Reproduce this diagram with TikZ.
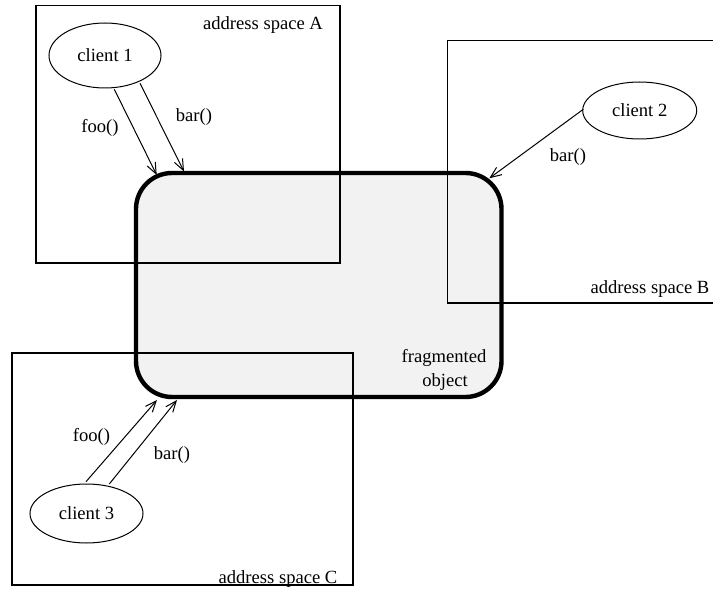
\documentclass[tikz,border=0pt]{standalone}
\usepackage{fontspec}
\setmainfont{Liberation Serif}
\usetikzlibrary{shapes.geometric,arrows.meta}
\begin{document}
\begin{tikzpicture}[x=1pt,y=-1pt,
  every node/.style={font=\fontsize{18.6}{21}\selectfont, inner sep=0pt},
  client/.style={ellipse, draw, line width=1pt},
  space/.style={draw, line width=1.1pt},
  spacethick/.style={draw, line width=2.2pt},
  call/.style={line width=1pt, -{Straight Barb[length=11pt,width=9pt,line width=1pt]}},
  lbl/.style={anchor=center}]
\useasboundingbox (0,0) rectangle (713,596);
\clip (0,0) rectangle (713,596);
% fragmented object fill
\path[fill=black!5, rounded corners=36pt] (136,173) rectangle (501.5,397);
% address spaces
\draw[space] (36,5.5) rectangle (340,263);
\draw[space] (447.7,40.7) rectangle (730,303);
\draw[spacethick] (11.7,353) rectangle (353,585);
% fragmented object border
\draw[line width=4.4pt, rounded corners=36pt] (136,173) rectangle (501.5,397);
% labels of spaces
\node[lbl] (la) at (263,25) {address space A};
\node[lbl] (lb) at (650,289) {address space B};
\node[lbl] (lc) at (278,579) {address space C};
\node[lbl] (fo1) at (444,358) {fragmented};
\node[lbl] (fo2) at (445,382) {object};
% clients
\node[client, minimum width=112pt, minimum height=65pt] (c1) at (105,55.5) {client 1};
\node[client, minimum width=114pt, minimum height=57pt] (c2) at (639.7,110.5) {client 2};
\node[client, minimum width=113pt, minimum height=59pt] (c3) at (86.5,513.5) {client 3};
% arrow end points
\coordinate (f1s) at (114.3,89.3);
\coordinate (f1e) at (156.7,175);
\coordinate (b1s) at (140,83.3);
\coordinate (b1e) at (184,171.5);
\coordinate (b2s) at (583.3,109.3);
\coordinate (b2e) at (489.3,178.3);
\coordinate (f3s) at (86,481.7);
\coordinate (f3e) at (157,400);
\coordinate (b3s) at (109.3,484);
\coordinate (b3e) at (177,400);
\draw[call] (f1s) -- (f1e);
\draw[call] (b1s) -- (b1e);
\draw[call] (b2s) -- (b2e);
\draw[call] (f3s) -- (f3e);
\draw[call] (b3s) -- (b3e);
% call labels
\node[lbl] (lf1) at (100,128) {foo()};
\node[lbl] (lb1) at (194,117) {bar()};
\node[lbl] (lb2) at (568,157) {bar()};
\node[lbl] (lf3) at (91.5,437) {foo()};
\node[lbl] (lb3) at (172,455) {bar()};
\end{tikzpicture}
\end{document}
